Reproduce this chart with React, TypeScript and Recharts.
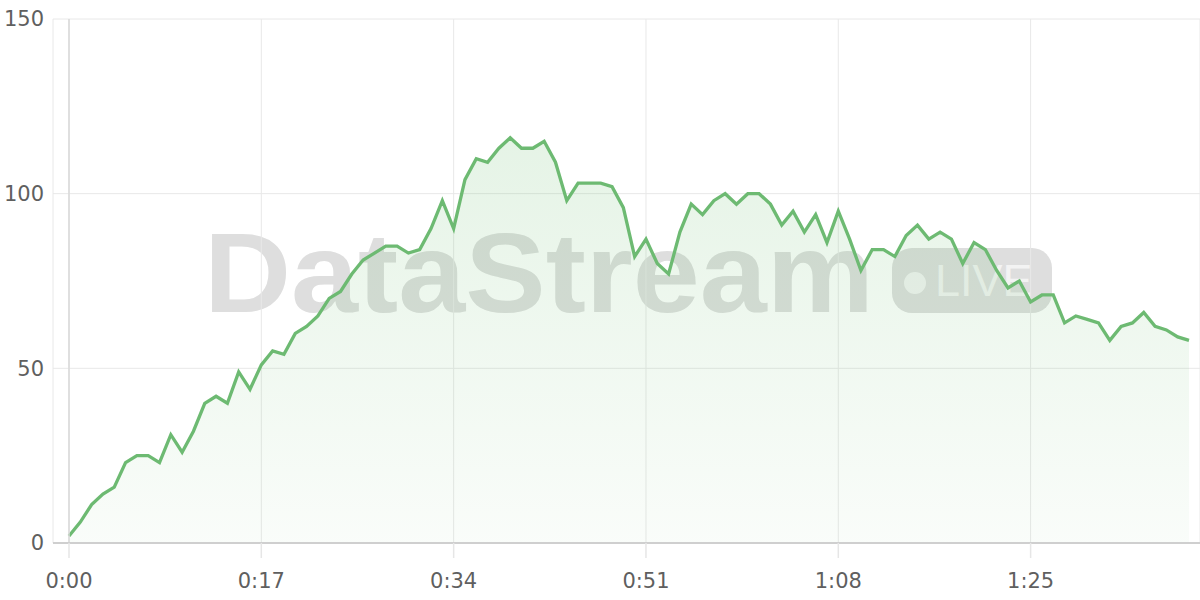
import React from "react";
import {
  AreaChart,
  Area,
  XAxis,
  YAxis,
  CartesianGrid,
  ReferenceLine,
} from "recharts";

// Values per second (0:00 .. 1:39)
const VALUES: number[] = [
  2, 6, 11, 14, 16, 23, 25, 25, 23, 31,
  26, 32, 40, 42, 40, 49, 44, 51, 55, 54,
  60, 62, 65, 70, 72, 77, 81, 83, 85, 85,
  83, 84, 90, 98, 90, 104, 110, 109, 113, 116,
  113, 113, 115, 109, 98, 103, 103, 103, 102, 96,
  82, 87, 80, 77, 89, 97, 94, 98, 100, 97,
  100, 100, 97, 91, 95, 89, 94, 86, 95, 87,
  78, 84, 84, 82, 88, 91, 87, 89, 87, 80,
  86, 84, 78, 73, 75, 69, 71, 71, 63, 65,
  64, 63, 58, 62, 63, 66, 62, 61, 59, 58,
];

const X_TICKS: number[] = [0, 17, 34, 51, 68, 85];
const Y_TICKS: number[] = [0, 50, 100, 150];

const data = VALUES.map((v, i) => ({ t: i, value: v }));

const fmtTime = (s: number) => {
  const m = Math.floor(s / 60);
  const sec = s % 60;
  return `${m}:${sec < 10 ? "0" : ""}${sec}`;
};

const FONT = "'DejaVu Sans', sans-serif";
const LABEL_COLOR = "#5f5f5f";

function Watermark() {
  return (
    <svg
      width={1200}
      height={600}
      style={{ position: "absolute", left: 0, top: 0 }}
    >
      <text
        x={204}
        y={312}
        fontFamily="'Liberation Sans', Arial, sans-serif"
        fontWeight="bold"
        fontSize={114}
        fill="#dedede"
        textLength={670}
        lengthAdjust="spacingAndGlyphs"
      >
        DataStream
      </text>
      <rect x={892} y={248} width={160} height={65} rx={20} ry={20} fill="#dedede" />
      <circle cx={915} cy={283} r={11} fill="#f3f3f3" />
      <text
        x={935}
        y={296}
        fontFamily="'Liberation Sans', Arial, sans-serif"
        fontSize={45}
        fill="#f3f3f3"
      >
        LIVE
      </text>
    </svg>
  );
}

export default function App() {
  return (
    <div
      style={{
        position: "absolute",
        left: 0,
        top: 0,
        width: 1200,
        height: 600,
        background: "#ffffff",
      }}
    >
      <Watermark />
      <div style={{ position: "absolute", left: 0, top: 0 }}>
        <AreaChart
          width={1200}
          height={600}
          data={data}
          margin={{ top: 19, right: 0, bottom: 0, left: 0 }}
        >
          <defs>
            <linearGradient id="areaFill" x1="0" y1="0" x2="0" y2="1">
              <stop offset="0%" stopColor="#66bb6a" stopOpacity={0.28} />
              <stop offset="100%" stopColor="#66bb6a" stopOpacity={0.06} />
            </linearGradient>
          </defs>
          <CartesianGrid stroke="#e8e8e8" strokeWidth={1} />
          <XAxis
            dataKey="t"
            type="number"
            domain={[0, 99]}
            ticks={X_TICKS}
            tickFormatter={fmtTime}
            padding={{ left: 16, right: 11 }}
            height={57}
            tickSize={15}
            tickMargin={15}
            axisLine={{ stroke: "#cfcfcf", strokeWidth: 2 }}
            tickLine={{ stroke: "#e6e6e6", strokeWidth: 1.5 }}
            tick={{ fill: LABEL_COLOR, fontSize: 21, fontFamily: FONT }}
            interval={0}
          />
          <YAxis
            type="number"
            domain={[0, 150]}
            ticks={Y_TICKS}
            width={53}
            tickSize={0}
            tickMargin={9}
            axisLine={false}
            tickLine={false}
            tick={{ fill: LABEL_COLOR, fontSize: 21, fontFamily: FONT }}
            interval={0}
          />
          <ReferenceLine x={0} stroke="#d8d8d8" strokeWidth={1.5} />
          <Area
            type="linear"
            dataKey="value"
            stroke="#6dba72"
            strokeWidth={3.3}
            fill="url(#areaFill)"
            isAnimationActive={false}
            dot={false}
            activeDot={false}
          />
        </AreaChart>
      </div>
    </div>
  );
}
